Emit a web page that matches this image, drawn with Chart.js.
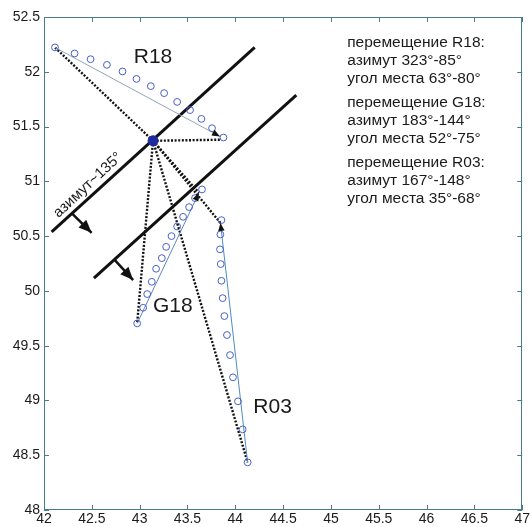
<!DOCTYPE html>
<html><head><meta charset="utf-8">
<script src="https://cdn.jsdelivr.net/npm/chart.js@4/dist/chart.umd.min.js"></script>
<style>html,body{margin:0;padding:0;background:#fff;}canvas{display:block;}</style>
</head><body>
<canvas id="c" width="531" height="527"></canvas>
<script>
// ---- data ----
const xTickValues = [42, 42.5, 43, 43.5, 44, 44.5, 45, 45.5, 46, 46.5, 47];
const yTickValues = [48, 48.5, 49, 49.5, 50, 50.5, 51, 51.5, 52, 52.5];

const r18X = [42.115, 42.32, 42.487, 42.658, 42.821, 42.967, 43.117, 43.256, 43.392, 43.527, 43.646, 43.757, 43.876];
const r18Y = [52.222, 52.167, 52.115, 52.063, 52.003, 51.935, 51.869, 51.805, 51.725, 51.650, 51.570, 51.485, 51.400];
const g18X = [42.974, 43.037, 43.079, 43.127, 43.172, 43.232, 43.277, 43.333, 43.392, 43.454, 43.517, 43.579, 43.652];
const g18Y = [49.703, 49.846, 49.971, 50.083, 50.202, 50.299, 50.402, 50.500, 50.588, 50.676, 50.765, 50.847, 50.926];
const r03X = [44.129, 44.077, 44.028, 43.976, 43.945, 43.913, 43.886, 43.868, 43.855, 43.848, 43.840, 43.844, 43.855];
const r03Y = [48.435, 48.736, 48.992, 49.211, 49.414, 49.597, 49.770, 49.934, 50.092, 50.245, 50.379, 50.515, 50.646];

const stationX = [43.14];
const stationY = [51.37];

const trackR18X = [42.115, 43.84], trackR18Y = [52.222, 51.41];
const trackG18X = [42.974, 43.62], trackG18Y = [49.703, 50.895];
const trackR03X = [44.129, 43.845], trackR03Y = [48.435, 50.62];

const rayTargetsX = [42.115, 43.85, 42.974, 43.62, 43.845, 44.129];
const rayTargetsY = [52.222, 51.38, 49.703, 50.895, 50.62, 48.435];

const front1X = [42.08, 44.203], front1Y = [50.539, 52.222];
const front2X = [42.522, 44.638], front2Y = [50.117, 51.787];
const dir1X = [42.289, 42.498], dir1Y = [50.71, 50.53];
const dir2X = [42.741, 42.932], dir2Y = [50.281, 50.099];

const satLabels = [
  {text: 'R18', x: 43.14, y: 52.13},
  {text: 'G18', x: 43.347, y: 49.86},
  {text: 'R03', x: 44.39, y: 48.94}
];
const azLabel = {text: 'азимут~135°', x: 42.459, y: 50.965, angle: -43};
const infoLines = [
  'перемещение R18:', 'азимут 323°-85°', 'угол места 63°-80°',
  'перемещение G18:', 'азимут 183°-144°', 'угол места 52°-75°',
  'перемещение R03:', 'азимут 167°-148°', 'угол места 35°-68°'
];
const infoAnchor = {x: 45.17, y: 52.264};

// ---- helpers ----
const pts = (xs, ys) => xs.map((x, i) => ({x: x, y: ys[i]}));
const FONT = "'Liberation Sans', Arial, sans-serif";
const AXIS = '#4a7d8c';
const fmt = v => String(Math.round(v * 10) / 10);

const datasets = [];
// circles
[[r18X, r18Y], [g18X, g18Y], [r03X, r03Y]].forEach(([xs, ys]) => datasets.push({
  data: pts(xs, ys), showLine: false, pointStyle: 'circle', pointRadius: 3.4,
  pointBorderWidth: 1, borderColor: '#4a5fc4', backgroundColor: 'rgba(0,0,0,0)',
  pointBackgroundColor: 'rgba(0,0,0,0)', pointBorderColor: '#4a5fc4'
}));
// station
datasets.push({data: pts(stationX, stationY), showLine: false, pointRadius: 5,
  pointBackgroundColor: '#1d2b9e', pointBorderColor: '#1d2b9e', borderColor: '#1d2b9e'});
// tracks with arrowheads
[[trackR18X, trackR18Y, '#8fa6b8'], [trackG18X, trackG18Y, '#5b86c4'], [trackR03X, trackR03Y, '#4f8cbf']].forEach(([xs, ys, c]) => datasets.push({
  data: pts(xs, ys), showLine: true, pointRadius: 0, borderColor: c, borderWidth: 1,
  arrowHead: {len: 8, half: 3.2, color: '#111'}
}));
// dotted rays
rayTargetsX.forEach((tx, i) => datasets.push({
  data: [{x: stationX[0], y: stationY[0]}, {x: tx, y: rayTargetsY[i]}],
  showLine: true, pointRadius: 0, borderColor: '#111', borderWidth: 2.4, borderDash: [2, 1.6]
}));
// fronts
[[front1X, front1Y], [front2X, front2Y]].forEach(([xs, ys]) => datasets.push({
  data: pts(xs, ys), showLine: true, pointRadius: 0, borderColor: '#111', borderWidth: 3
}));
// direction arrows
[[dir1X, dir1Y], [dir2X, dir2Y]].forEach(([xs, ys]) => datasets.push({
  data: pts(xs, ys), showLine: true, pointRadius: 0, borderColor: '#111', borderWidth: 2.5,
  arrowHead: {len: 13, half: 5.5, color: '#111'}
}));

const arrowPlugin = {
  id: 'arrows',
  afterDatasetsDraw(chart) {
    const ctx = chart.ctx;
    chart.data.datasets.forEach((ds, i) => {
      if (!ds.arrowHead) return;
      const el = chart.getDatasetMeta(i).data;
      const a = el[el.length - 2], b = el[el.length - 1];
      const ang = Math.atan2(b.y - a.y, b.x - a.x);
      const {len, half, color} = ds.arrowHead;
      ctx.save();
      ctx.translate(b.x, b.y); ctx.rotate(ang);
      ctx.fillStyle = color;
      ctx.beginPath(); ctx.moveTo(0, 0); ctx.lineTo(-len, -half); ctx.lineTo(-len, half); ctx.closePath(); ctx.fill();
      ctx.restore();
    });
  }
};

const framePlugin = {
  id: 'frame',
  afterDraw(chart) {
    const {ctx, chartArea: a, scales: {x, y}} = chart;
    ctx.save();
    ctx.strokeStyle = AXIS; ctx.lineWidth = 1;
    ctx.strokeRect(Math.round(a.left) + 0.5, Math.round(a.top) + 0.5, Math.round(a.right - a.left) - 1, Math.round(a.bottom - a.top) - 1);
    ctx.beginPath();
    x.ticks.forEach(t => {
      const px = Math.round(x.getPixelForValue(t.value)) + 0.5;
      ctx.moveTo(px, a.bottom); ctx.lineTo(px, a.bottom - 5);
      ctx.moveTo(px, a.top); ctx.lineTo(px, a.top + 5);
    });
    y.ticks.forEach(t => {
      const py = Math.round(y.getPixelForValue(t.value)) + 0.5;
      ctx.moveTo(a.left, py); ctx.lineTo(a.left + 5, py);
      ctx.moveTo(a.right, py); ctx.lineTo(a.right - 5, py);
    });
    ctx.stroke();
    ctx.restore();
  }
};

const textPlugin = {
  id: 'texts',
  afterDatasetsDraw(chart) {
    const {ctx, scales: {x, y}} = chart;
    ctx.save();
    ctx.fillStyle = '#1a1a1a';
    ctx.textAlign = 'center'; ctx.textBaseline = 'middle';
    ctx.font = '21px ' + FONT;
    satLabels.forEach(l => ctx.fillText(l.text, x.getPixelForValue(l.x), y.getPixelForValue(l.y)));
    ctx.save();
    ctx.translate(x.getPixelForValue(azLabel.x), y.getPixelForValue(azLabel.y));
    ctx.rotate(azLabel.angle * Math.PI / 180);
    ctx.font = '15px ' + FONT;
    ctx.fillText(azLabel.text, 0, 0);
    ctx.restore();
    ctx.textAlign = 'left';
    ctx.font = '15.5px ' + FONT;
    const ax = x.getPixelForValue(infoAnchor.x), ay = y.getPixelForValue(infoAnchor.y);
    infoLines.forEach((s, i) => {
      const grp = Math.floor(i / 3);
      ctx.fillText(s, ax, ay + i * 18 + grp * 6);
    });
    ctx.restore();
  }
};

new Chart(document.getElementById('c'), {
  type: 'scatter',
  data: {datasets},
  plugins: [arrowPlugin, textPlugin, framePlugin],
  options: {
    responsive: false, animation: false,
    layout: {padding: {top: 17, right: 8, left: 0, bottom: 0}},
    plugins: {legend: {display: false}, tooltip: {enabled: false}},
    elements: {line: {tension: 0}},
    scales: {
      x: {
        type: 'linear', min: 42, max: 47,
        afterBuildTicks: s => { s.ticks = xTickValues.map(v => ({value: v})); },
        afterFit: s => { s.height = 17; },
        grid: {display: false, drawTicks: false}, border: {display: false},
        ticks: {padding: 1, color: '#1a1a1a', font: {size: 14, family: FONT}, maxRotation: 0, autoSkip: false, callback: fmt}
      },
      y: {
        type: 'linear', min: 48, max: 52.5,
        afterBuildTicks: s => { s.ticks = yTickValues.map(v => ({value: v})); },
        afterFit: s => { s.width = 44; },
        grid: {display: false, drawTicks: false}, border: {display: false},
        ticks: {padding: 4, color: '#1a1a1a', font: {size: 14, family: FONT}, autoSkip: false, callback: fmt}
      }
    }
  }
});
</script>
</body></html>
